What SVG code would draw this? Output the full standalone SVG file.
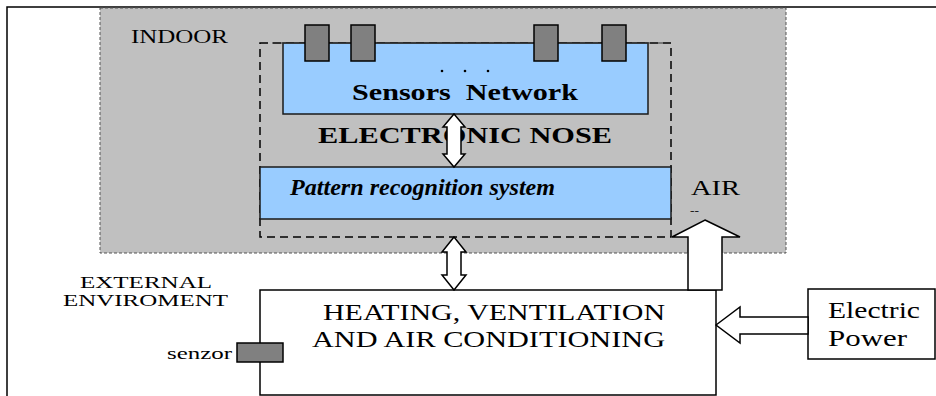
<svg xmlns="http://www.w3.org/2000/svg" width="936" height="396" viewBox="0 0 936 396" font-family="'Liberation Serif', 'Times New Roman', serif">
<style>
text{font-family:'Liberation Serif','Times New Roman',serif;fill:#000}
.b{font-weight:bold}
.bi{font-weight:bold;font-style:italic}
.line{fill:none;stroke:#000;stroke-width:1.5}
.blue{fill:#99ccff;stroke:#1a1a1a;stroke-width:1.5}
.sens{fill:#808080;stroke:#000;stroke-width:1.5}
.arrow{fill:#fff;stroke:#000;stroke-width:1.5;stroke-linejoin:miter}
</style>
<rect width="936" height="396" fill="#fff"/>
<g id="frame">
<path d="M7,396 L7,7 L936,7" class="line" stroke-width="2"/>
</g>
<g id="indoor">
<rect x="100" y="8" width="686" height="245" fill="#c0c0c0" stroke="#555" stroke-width="1" stroke-dasharray="3,2"/>
<text x="131" y="43" font-size="18" textLength="97" lengthAdjust="spacingAndGlyphs">INDOOR</text>
</g>
<g id="electronic-nose">
<rect x="260" y="43" width="411" height="194" fill="none" stroke="#000" stroke-width="1.5" stroke-dasharray="8,5"/>
<text x="318" y="143" font-size="24" class="b" textLength="294" lengthAdjust="spacingAndGlyphs">ELECTRONIC NOSE</text>
</g>
<g id="sensors-network">
<rect x="283" y="43" width="365" height="71" class="blue"/>
<line x1="272" y1="43" x2="663" y2="43" stroke="#333" stroke-width="1"/>
<rect x="305" y="25" width="24" height="36" class="sens"/>
<rect x="351" y="25" width="24" height="36" class="sens"/>
<rect x="534" y="25" width="24" height="36" class="sens"/>
<rect x="602" y="25" width="24" height="36" class="sens"/>
<circle cx="442" cy="71" r="1.3"/>
<circle cx="465" cy="71" r="1.3"/>
<circle cx="488" cy="71" r="1.3"/>
<text x="352" y="100" font-size="24" class="b" textLength="226" lengthAdjust="spacingAndGlyphs" style="white-space:pre">Sensors  Network</text>
</g>
<g id="pattern-recognition">
<rect x="260" y="167" width="411" height="52" class="blue" stroke="#000"/>
<text x="290" y="195" font-size="24" class="bi" textLength="265" lengthAdjust="spacingAndGlyphs">Pattern recognition system</text>
</g>
<g id="air-label">
<text x="691" y="195" font-size="22" textLength="49" lengthAdjust="spacingAndGlyphs">AIR</text>
<text x="690" y="214" font-size="10" textLength="9" lengthAdjust="spacingAndGlyphs">--</text>
</g>
<g id="external">
<text x="80" y="288" font-size="17" textLength="132" lengthAdjust="spacingAndGlyphs">EXTERNAL</text>
<text x="63" y="306" font-size="17" textLength="165" lengthAdjust="spacingAndGlyphs">ENVIROMENT</text>
</g>
<g id="hvac">
<rect x="260" y="290" width="456" height="105" fill="#fff" stroke="#000" stroke-width="1.5"/>
<text x="323" y="320" font-size="23" textLength="342" lengthAdjust="spacingAndGlyphs">HEATING, VENTILATION</text>
<text x="312" y="347" font-size="23" textLength="353" lengthAdjust="spacingAndGlyphs">AND AIR CONDITIONING</text>
</g>
<g id="senzor">
<rect x="237" y="343" width="46" height="19" class="sens"/>
<text x="167" y="359" font-size="17" textLength="65" lengthAdjust="spacingAndGlyphs">senzor</text>
</g>
<g id="electric-power">
<rect x="808" y="289" width="127" height="70" fill="#fff" stroke="#000" stroke-width="1.5"/>
<text x="828" y="318" font-size="23" textLength="92" lengthAdjust="spacingAndGlyphs">Electric</text>
<text x="828" y="346" font-size="23" textLength="79" lengthAdjust="spacingAndGlyphs">Power</text>
</g>
<g id="connectors">
<path class="arrow" d="M454,114 L465,127 L461,127 L461,154 L465,154 L454,167 L443,154 L447,154 L447,127 L443,127 Z"/>
<path class="arrow" d="M454,237 L466,252 L461,252 L461,275 L466,275 L454,290 L442,275 L447,275 L447,252 L442,252 Z"/>
<path class="arrow" d="M705,220 L740,237 L722,237 L722,290 L688,290 L688,237 L672,237 Z"/>
<path class="arrow" d="M716,325 L740,307 L740,317 L808,317 L808,334 L740,334 L740,343 Z"/>
</g>
</svg>
